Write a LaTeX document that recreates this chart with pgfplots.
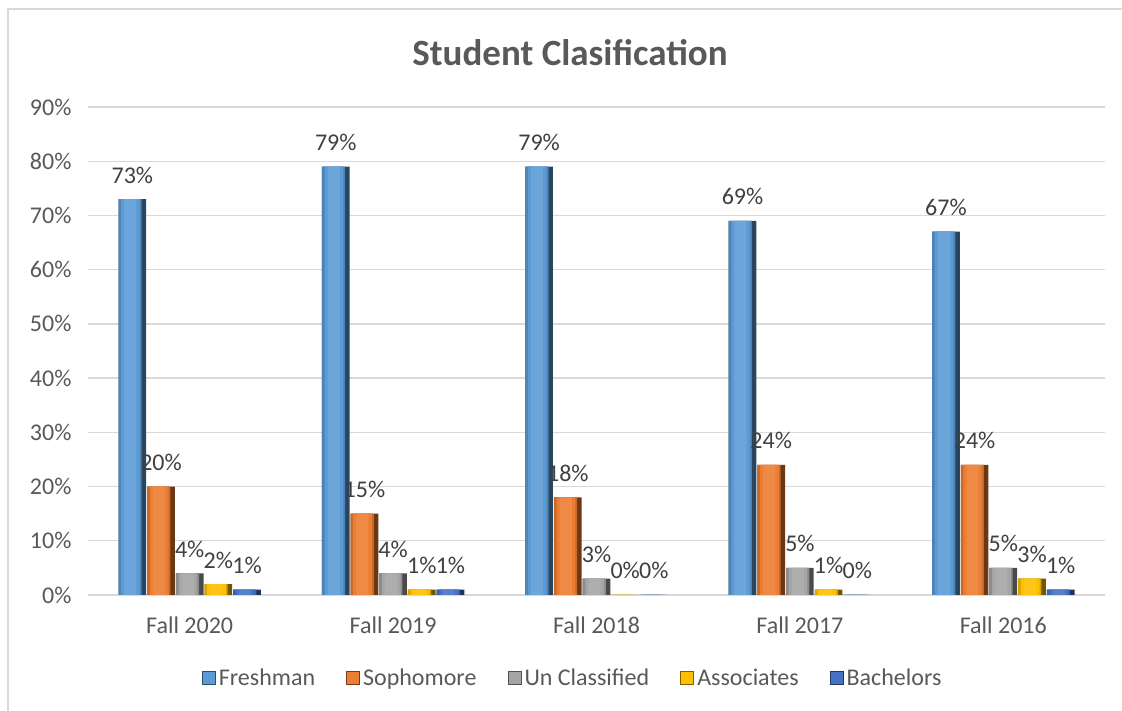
\documentclass[border=0pt]{standalone}
\usepackage{pgfplots}
\pgfplotsset{compat=1.18}
\usepackage{fontspec}
\setmainfont{Carlito}
\definecolor{cFr}{HTML}{5B9BD5}
\definecolor{cSo}{HTML}{ED7D31}
\definecolor{cUn}{HTML}{A5A5A5}
\definecolor{cAs}{HTML}{FFC000}
\definecolor{cBa}{HTML}{4472C4}
\definecolor{gridc}{HTML}{D9D9D9}
\definecolor{labc}{HTML}{595959}
\definecolor{datc}{HTML}{404040}
\newcommand\bevelseries[3]{%
  \addplot[forget plot, fill=#1!45!black, draw=none, bar width=0.136, bar shift=#2,
    nodes near coords={\pgfmathprintnumber[fixed,precision=0]{\pgfplotspointmeta}\%}] coordinates {#3};
  \addplot[forget plot, fill=#1!85!black, draw=none, bar width=0.114, bar shift=#2-0.011] coordinates {#3};
  \addplot[forget plot, fill=#1, draw=none, bar width=0.092, bar shift=#2-0.009] coordinates {#3};
  \addplot[forget plot, fill=#1!90!white, draw=none, bar width=0.06, bar shift=#2-0.01] coordinates {#3};
}
\begin{document}
\begin{tikzpicture}[x=1bp,y=1bp]
\useasboundingbox (0,0) rectangle (1122,711);
\draw[color=gridc, line width=1.5bp] (8,0) -- (8,702) -- (1122,702);
\node[font=\fontsize{37bp}{44bp}\selectfont\bfseries, text=labc] at (570,658) {Student Clasification};
\begin{axis}[
  at={(189.7bp,116bp)}, anchor=origin,
  scale only axis, width=1017bp, height=488bp,
  xmin=-0.5, xmax=4.5, ymin=0, ymax=90,
  ybar,
  xtick={0,1,2,3,4},
  xticklabels={Fall 2020, Fall 2019, Fall 2018, Fall 2017, Fall 2016},
  ytick={0,10,...,90},
  yticklabel={\pgfmathprintnumber[fixed,precision=0]{\tick}\%},
  /pgf/number format/assume math mode=true,
  ymajorgrids, major grid style={color=gridc, line width=1.3bp},
  axis line style={draw=none}, tick style={draw=none},
  ticklabel style={font=\fontsize{24bp}{28bp}\selectfont, text=labc},
  xticklabel style={yshift=-14bp},
  yticklabel style={xshift=-13bp},
  nodes near coords style={font=\fontsize{24bp}{28bp}\selectfont, text=datc, anchor=base, yshift=16bp, inner sep=0pt},
  legend columns=5,
  legend style={at={(0.477,-0.17)}, anchor=center, draw=none, fill=none,
    font=\fontsize{24bp}{28bp}\selectfont, text=labc,
    /tikz/every even column/.append style={column sep=28bp},
    nodes={inner xsep=3bp}},
  legend image code/.code={\path[#1] (0bp,-6.5bp) rectangle (13bp,6.5bp);},
  clip=false,
]
\addlegendimage{fill=cFr, draw=cFr!50!black, line width=1bp}
\addlegendimage{fill=cSo, draw=cSo!50!black, line width=1bp}
\addlegendimage{fill=cUn, draw=cUn!50!black, line width=1bp}
\addlegendimage{fill=cAs, draw=cAs!50!black, line width=1bp}
\addlegendimage{fill=cBa, draw=cBa!50!black, line width=1bp}
\bevelseries{cFr}{-0.282}{(0,73) (1,79) (2,79) (3,69) (4,67)}
\bevelseries{cSo}{-0.141}{(0,20) (1,15) (2,18) (3,24) (4,24)}
\bevelseries{cUn}{0}{(0,4) (1,4) (2,3) (3,5) (4,5)}
\bevelseries{cAs}{0.141}{(0,2) (1,1) (2,0) (3,1) (4,3)}
\bevelseries{cBa}{0.282}{(0,1) (1,1) (2,0) (3,0) (4,1)}
\legend{Freshman, Sophomore, Un Classified, Associates, Bachelors}
\end{axis}
\end{tikzpicture}
\end{document}
